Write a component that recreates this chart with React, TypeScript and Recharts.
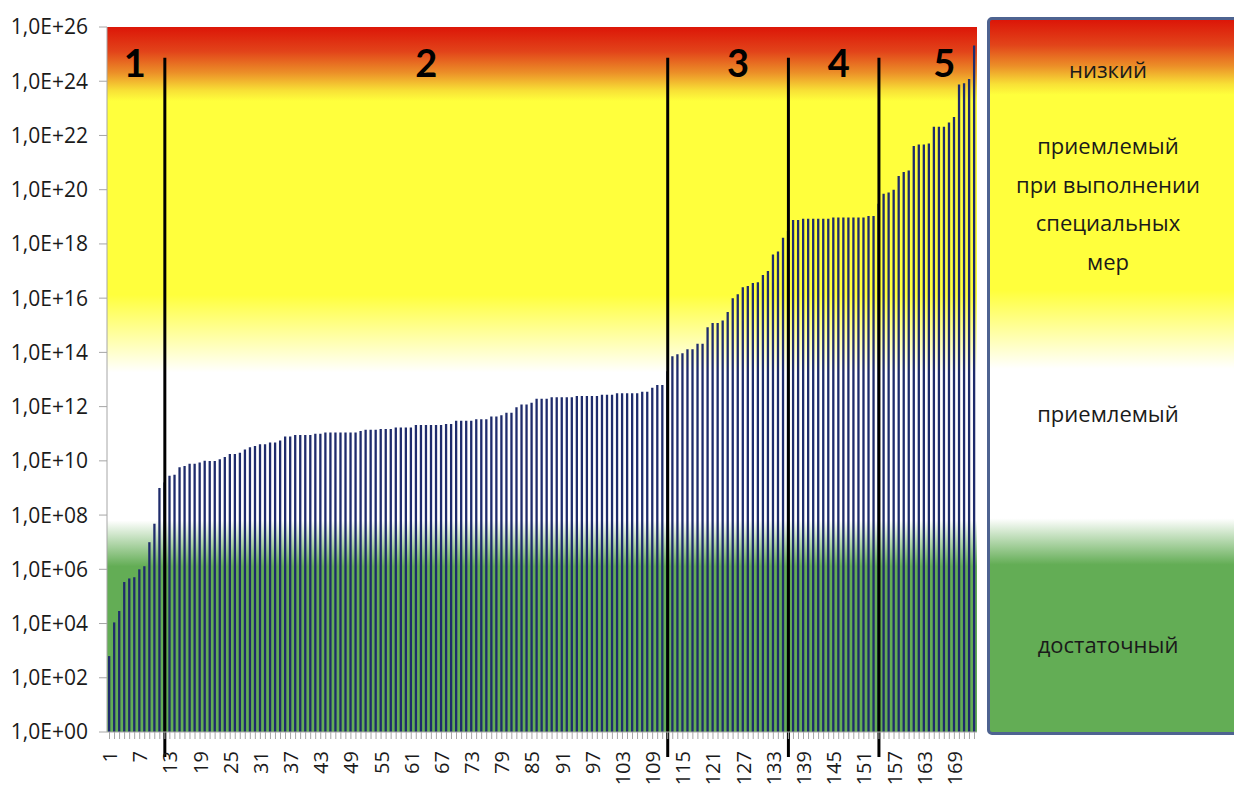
import { BarChart, Bar, XAxis, YAxis, CartesianGrid, ReferenceLine, ReferenceDot } from 'recharts'

// risk value per item, items sorted ascending
const riskValues = [
  // 1-12
  6.3e2, 1.1e4, 2.9e4, 3.4e5, 4.6e5, 5.1e5, 1.0e6, 1.3e6, 1.0e7, 4.8e7, 1.0e9, 1.6e9,
  // 13-24
  2.8e9, 3.1e9, 5.8e9, 6.5e9, 7.8e9, 7.8e9, 8.7e9, 1.0e10, 9.8e9, 9.8e9, 1.15e10, 1.4e10,
  // 25-36
  1.8e10, 1.8e10, 2.0e10, 2.6e10, 3.2e10, 3.5e10, 4.1e10, 4.1e10, 4.7e10, 4.7e10, 5.6e10, 7.9e10,
  // 37-48
  7.9e10, 8.9e10, 8.9e10, 8.9e10, 8.9e10, 1.0e11, 1.0e11, 1.12e11, 1.12e11, 1.12e11, 1.12e11, 1.12e11,
  // 49-60
  1.12e11, 1.12e11, 1.26e11, 1.4e11, 1.4e11, 1.4e11, 1.5e11, 1.5e11, 1.5e11, 1.7e11, 1.7e11, 1.7e11,
  // 61-72
  1.7e11, 2.1e11, 2.1e11, 2.1e11, 2.1e11, 2.1e11, 2.1e11, 2.3e11, 2.3e11, 3.0e11, 3.0e11, 3.0e11,
  // 73-84
  3.0e11, 3.4e11, 3.4e11, 3.4e11, 4.3e11, 4.3e11, 4.8e11, 5.9e11, 5.9e11, 9.5e11, 1.2e12, 1.2e12,
  // 85-96
  1.4e12, 1.95e12, 1.95e12, 1.95e12, 2.2e12, 2.2e12, 2.2e12, 2.2e12, 2.2e12, 2.45e12, 2.45e12, 2.45e12,
  // 97-108
  2.45e12, 2.45e12, 2.75e12, 2.75e12, 2.75e12, 3.1e12, 3.1e12, 3.1e12, 3.1e12, 3.1e12, 3.5e12, 3.5e12,
  // 109-120
  5.0e12, 6.3e12, 6.3e12, 2.0e13, 7.2e13, 8.5e13, 9.3e13, 1.3e14, 1.3e14, 2.1e14, 2.1e14, 8.5e14,
  // 121-132
  1.2e15, 1.2e15, 1.5e15, 3.1e15, 1.0e16, 1.4e16, 2.5e16, 2.8e16, 3.6e16, 3.9e16, 7.1e16, 1.0e17,
  // 133-144
  4.1e17, 5.2e17, 1.7e18, 3.0e18, 7.6e18, 7.6e18, 8.5e18, 8.5e18, 8.5e18, 8.5e18, 8.5e18, 8.5e18,
  // 145-156
  9.5e18, 9.5e18, 9.5e18, 9.5e18, 9.5e18, 9.5e18, 9.5e18, 1.07e19, 1.07e19, 3.0e19, 7.1e19, 7.9e19,
  // 157-168
  1.0e20, 3.2e20, 4.5e20, 5.1e20, 4.1e21, 4.6e21, 4.6e21, 5.1e21, 2.1e22, 2.1e22, 2.1e22, 3.0e22,
  // 169-173
  4.8e22, 7.6e23, 8.5e23, 1.2e24, 2.1e25,
]

const itemNumbers = riskValues.map((_, i) => i + 1)

const yTicks = [1, 1e2, 1e4, 1e6, 1e8, 1e10, 1e12, 1e14, 1e16, 1e18, 1e20, 1e22, 1e24, 1e26]

// zone borders (item numbers) and zone captions
const zoneBorders = [12, 112, 136, 154]
const zoneNames = ['1', '2', '3', '4', '5']
const zoneNameItems = [6, 64, 126, 146, 167]
const ZONE_LINE_TOP = 7.4e24
const ZONE_LINE_BOTTOM = 0.12
const ZONE_NAME_Y = 4.6e24

const legendLabels = [
  ['низкий'],
  ['приемлемый', 'при выполнении', 'специальных', 'мер'],
  ['приемлемый'],
  ['достаточный'],
]
const legendTops = [50, 126, 394, 625]

const BAR = '#1f2c6c'
const AXIS = '#a6a6a6'
const FONT = '"Open Sans", sans-serif'

const BG_STOPS: [number, string][] = [
  [0, '#dc1608'],
  [0.035, '#e2441a'],
  [0.065, '#ec9028'],
  [0.09, '#f8e036'],
  [0.105, '#ffff3c'],
  [0.38, '#ffff3c'],
  [0.49, '#ffffff'],
  [0.7, '#ffffff'],
  [0.765, '#63ad55'],
  [1, '#63ad55'],
]

const cssGradient = `linear-gradient(to bottom, ${BG_STOPS.map(([o, c]) => `${c} ${o * 100}%`).join(', ')})`

const chartData = itemNumbers.map((n, i) => ({ item: n, value: riskValues[i] }))

function formatExp(v: number) {
  const e = Math.round(Math.log10(v))
  return `1,0E+${String(e).padStart(2, '0')}`
}

function ItemTick({ x, y, payload }: { x: number; y: number; payload: { value: number } }) {
  if ((payload.value - 1) % 6 !== 0) return null
  const ty = y + 10
  return (
    <text
      x={x}
      y={ty}
      transform={`rotate(-90, ${x}, ${ty})`}
      textAnchor="end"
      dominantBaseline="central"
      fontSize={20}
      fontFamily={FONT}
      fill="#1a1a1a"
    >
      {payload.value}
    </text>
  )
}

export default function App() {
  return (
    <div style={{ position: 'absolute', left: 0, top: 0, width: 1234, height: 794, background: '#fff', overflow: 'hidden' }}>
      <BarChart
        width={990}
        height={794}
        data={chartData}
        margin={{ top: 27, right: 13, bottom: 0, left: 12 }}
        barSize={2.3}
      >
        <defs>
          <linearGradient id="riskBg" x1="0" y1="0" x2="0" y2="1">
            {BG_STOPS.map(([o, c]) => (
              <stop key={o} offset={o} stopColor={c} />
            ))}
          </linearGradient>
        </defs>
        <CartesianGrid horizontal={false} vertical={false} fill="url(#riskBg)" />
        <XAxis
          dataKey="item"
          interval={0}
          height={62}
          tickSize={7}
          tickMargin={2}
          axisLine={{ stroke: AXIS }}
          tickLine={{ stroke: AXIS }}
          tick={(p: any) => <ItemTick {...p} />}
        />
        <YAxis
          scale="log"
          domain={[1, 1e26]}
          ticks={yTicks}
          allowDataOverflow
          width={95}
          tickSize={8}
          tickMargin={11}
          tickFormatter={formatExp}
          axisLine={{ stroke: AXIS }}
          tickLine={{ stroke: AXIS }}
          tick={{ fill: '#1a1a1a', fontSize: 21, fontFamily: FONT }}
        />
        <Bar dataKey="value" fill={BAR} isAnimationActive={false} />
        {zoneBorders.map(b => (
          <ReferenceLine
            key={b}
            segment={[{ x: b, y: ZONE_LINE_TOP }, { x: b, y: ZONE_LINE_BOTTOM }]}
            stroke="#000"
            strokeWidth={3}
            ifOverflow="visible"
          />
        ))}
        {zoneNames.map((name, i) => (
          <ReferenceDot
            key={name}
            x={zoneNameItems[i]}
            y={ZONE_NAME_Y}
            r={0}
            stroke="none"
            fill="none"
            ifOverflow="visible"
            label={{ value: name, position: 'center', fontSize: 38, fontWeight: 700, fontFamily: 'Lato, sans-serif', fill: '#000' }}
          />
        ))}
      </BarChart>

      <div
        style={{
          position: 'absolute',
          left: 987,
          top: 17,
          width: 262,
          height: 718,
          boxSizing: 'border-box',
          border: '3px solid #4e6390',
          borderRadius: 5,
          background: cssGradient,
          fontFamily: FONT,
          fontSize: 22,
          color: '#1a1a1a',
        }}
      >
        {legendLabels.map((lines, i) => (
          <div
            key={i}
            style={{ position: 'absolute', left: 0, width: 236, top: legendTops[i] - 20, textAlign: 'center', lineHeight: '38.5px' }}
          >
            {lines.map(l => (
              <div key={l}>{l}</div>
            ))}
          </div>
        ))}
      </div>
    </div>
  )
}
